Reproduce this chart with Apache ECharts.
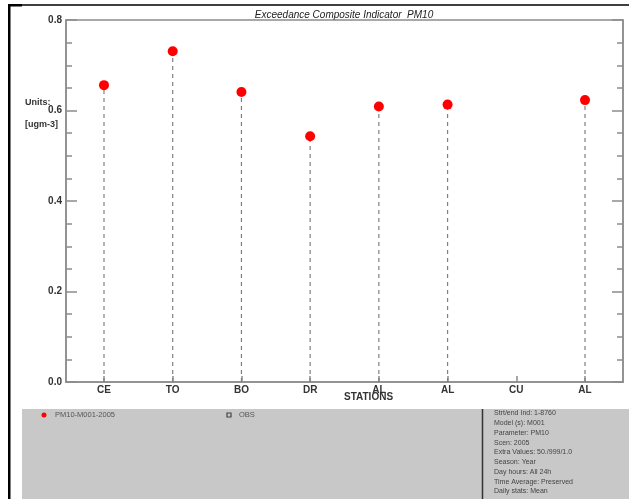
<!DOCTYPE html>
<html>
<head>
<meta charset="utf-8">
<script src="https://cdn.jsdelivr.net/npm/echarts@6/dist/echarts.min.js"></script>
<style>
  html, body { margin: 0; padding: 0; background: #fff; }
  #chart { width: 629px; height: 499px; }
</style>
</head>
<body>
<div id="chart"></div>
<script>
// Station codes along the x axis and the composite indicator per station
const stations = ['CE', 'TO', 'BO', 'DR', 'AL', 'AL', 'CU', 'AL'];
const indicator = [0.656, 0.731, 0.641, 0.543, 0.609, 0.613, null, 0.623];
const yTicks = [0, 0.2, 0.4, 0.6, 0.8];
const infoLines = [
  'Strt/end Ind: 1-8760',
  'Model (s): M001',
  'Parameter: PM10',
  'Scen: 2005',
  'Extra Values: 50./999/1.0',
  'Season: Year',
  'Day hours: All 24h',
  'Time Average: Preserved',
  'Daily stats: Mean'
];
const seriesName = 'PM10-M001-2005';
const obsName = 'OBS';

const FONT = 'Liberation Sans';
const AXIS_COLOR = '#8c8c8c';
const stationIdx = stations.map((_, i) => i);

const points = [];
indicator.forEach((v, i) => { if (v !== null) points.push([i, v]); });

const chart = echarts.init(document.getElementById('chart'), null, { renderer: 'canvas' });

const infoGraphics = infoLines.map((t, k) => ({
  type: 'text', left: 494, top: 410 + k * 9.75,
  style: { text: t, font: '7px ' + FONT, fill: '#444' }
}));

const yAxisBase = {
  type: 'value', min: 0, max: 0.8, interval: 0.2,
  axisLine: { show: true, onZero: false, lineStyle: { color: AXIS_COLOR, width: 1.5 } },
  axisTick: { show: true, inside: true, length: 11, lineStyle: { color: AXIS_COLOR, width: 1.5 } },
  minorTick: { show: true, splitNumber: 4, length: 6, lineStyle: { color: AXIS_COLOR, width: 1.5 } },
  splitLine: { show: false }
};

chart.setOption({
  animation: false,
  backgroundColor: '#fff',
  title: {
    text: 'Exceedance Composite Indicator  PM10',
    left: 339, top: 5, textAlign: 'center',
    textStyle: { fontFamily: FONT, fontSize: 10, fontStyle: 'italic', fontWeight: 'normal', color: '#222' }
  },
  grid: {
    left: 66, right: 6, top: 20, bottom: 117,
    show: true, borderColor: AXIS_COLOR, borderWidth: 1.5, backgroundColor: 'transparent'
  },
  xAxis: {
    type: 'value', min: -0.553, max: 7.553,
    axisLine: { show: true, onZero: false, lineStyle: { color: AXIS_COLOR, width: 1.5 } },
    axisTick: { show: true, inside: true, length: 6, customValues: stationIdx, lineStyle: { color: AXIS_COLOR, width: 1.5 } },
    axisLabel: {
      customValues: stationIdx, margin: 3,
      formatter: v => stations[Math.round(v)],
      fontFamily: FONT, fontSize: 10, fontWeight: 'bold', color: '#333'
    },
    splitLine: { show: false }
  },
  yAxis: [Object.assign({}, yAxisBase, {
    position: 'left',
    axisLabel: {
      margin: 4, formatter: v => v.toFixed(1),
      fontFamily: FONT, fontSize: 10, fontWeight: 'bold', color: '#333'
    }
  }), Object.assign({}, yAxisBase, {
    position: 'right',
    axisLabel: { show: false }
  })],
  series: [{
    // dashed stems from the baseline up to each value
    type: 'custom',
    data: points,
    renderItem: (params, api) => {
      const x = api.value(0), v = api.value(1);
      const p0 = api.coord([x, 0]);
      const p1 = api.coord([x, v]);
      return {
        type: 'line',
        shape: { x1: p0[0], y1: p0[1], x2: p1[0], y2: p1[1] },
        style: { stroke: '#808080', lineWidth: 1.2, lineDash: [4, 4] }
      };
    },
    z: 2
  }, {
    type: 'scatter',
    data: points,
    symbol: 'circle', symbolSize: 10,
    itemStyle: { color: '#ff0000', opacity: 1 },
    z: 3
  }],
  graphic: [
    // page frame
    { type: 'rect', shape: { x: 8, y: 4, width: 2.5, height: 495 }, style: { fill: '#000' }, silent: true },
    { type: 'rect', shape: { x: 8, y: 4, width: 14, height: 2.5 }, style: { fill: '#000' }, silent: true },
    { type: 'line', shape: { x1: 8, y1: 5, x2: 629, y2: 5 }, style: { stroke: '#000', lineWidth: 1.5 }, silent: true },
    // axis captions
    { type: 'text', left: 25, top: 98, style: { text: 'Units:', font: 'bold 9px ' + FONT, fill: '#333' } },
    { type: 'text', left: 25, top: 120, style: { text: '[ugm-3]', font: 'bold 9px ' + FONT, fill: '#333' } },
    { type: 'text', left: 344, top: 392, style: { text: 'STATIONS', font: 'bold 10px ' + FONT, fill: '#333', textAlign: 'center' } },
    // legend / info panel
    { type: 'rect', shape: { x: 22, y: 409, width: 607, height: 90 }, style: { fill: '#c8c8c8' }, silent: true, z: -1 },
    { type: 'line', shape: { x1: 482.5, y1: 409, x2: 482.5, y2: 499 }, style: { stroke: '#333', lineWidth: 1.5 }, silent: true },
    { type: 'circle', shape: { cx: 44, cy: 415, r: 2.5 }, style: { fill: '#ff0000' }, silent: true },
    { type: 'text', left: 55, top: 411, style: { text: seriesName, font: '7.5px ' + FONT, fill: '#555' } },
    { type: 'rect', shape: { x: 227, y: 413, width: 4, height: 4 }, style: { fill: 'none', stroke: '#444', lineWidth: 1.2 }, silent: true },
    { type: 'text', left: 239, top: 411, style: { text: obsName, font: '7.5px ' + FONT, fill: '#555' } }
  ].concat(infoGraphics)
});
</script>
</body>
</html>
